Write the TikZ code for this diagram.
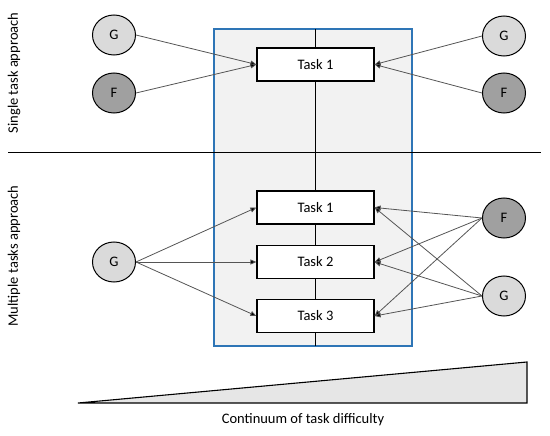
\documentclass[tikz,border=0pt]{standalone}
\usepackage{fontspec}
\setmainfont{Carlito}
\usetikzlibrary{shapes.geometric,arrows.meta}
\definecolor{panelblue}{HTML}{2E75B6}
\definecolor{panelfill}{HTML}{F2F2F2}
\definecolor{lightnode}{HTML}{DADADA}
\definecolor{darknode}{HTML}{A0A0A0}
\definecolor{arrowgray}{HTML}{555555}
\definecolor{wedgefill}{HTML}{E6E6E6}
\begin{document}
\begin{tikzpicture}[x=1pt,y=-1pt,
  every node/.style={font=\fontsize{14.5}{17}\selectfont},
  taskbox/.style={draw=black,line width=1.2pt,fill=white,minimum width=117pt,minimum height=33pt,inner sep=0pt},
  gnode/.style={ellipse,draw=black,line width=1pt,fill=lightnode,minimum width=43pt,minimum height=40pt,inner sep=0pt},
  fnode/.style={ellipse,draw=black,line width=1pt,fill=darknode,minimum width=43pt,minimum height=40pt,inner sep=0pt},
  link/.style={draw=arrowgray,line width=0.8pt,-{Triangle[length=6pt,width=5pt,fill=black]}}
]
\useasboundingbox (0,0) rectangle (550,436);
% panel
\node[draw=panelblue,line width=1.3pt,fill=panelfill,minimum width=198pt,minimum height=317pt,inner sep=0pt] (panel) at (313,187.5) {};
\coordinate (vtop) at (315,29);
\coordinate (vbot) at (315,346);
\draw[line width=1pt] (vtop) -- (vbot);
% divider
\coordinate (hl) at (8,152.5);
\coordinate (hr) at (541,152.5);
\draw[line width=1.2pt] (hl) -- (hr);
% side labels
\node[rotate=90] (single) at (14,73) {Single task approach};
\node[rotate=90] (multi) at (14,256) {Multiple tasks approach};
% top section
\node[taskbox] (t0) at (315.5,64.5) {Task 1};
\node[gnode] (gl0) at (114,35) {G};
\node[fnode] (fl0) at (114,93) {F};
\node[gnode] (gr0) at (504,36) {G};
\node[fnode] (fr0) at (504,93) {F};
\draw[link] (gl0.east) -- (t0.west);
\draw[link] (fl0.east) -- (t0.west);
\draw[link] (gr0.west) -- (t0.east);
\draw[link] (fr0.west) -- (t0.east);
% bottom section
\node[taskbox] (t1) at (315.5,207.5) {Task 1};
\node[taskbox] (t2) at (315.5,262) {Task 2};
\node[taskbox] (t3) at (315.5,316) {Task 3};
\node[gnode] (gl1) at (114,262) {G};
\node[fnode] (fr1) at (504,218) {F};
\node[gnode] (gr1) at (504,296) {G};
\draw[link] (gl1.east) -- (t1.west);
\draw[link] (gl1.east) -- (t2.west);
\draw[link] (gl1.east) -- (t3.west);
\draw[link] (fr1.west) -- (t1.east);
\draw[link] (fr1.west) -- (t2.east);
\draw[link] (fr1.west) -- (t3.east);
\draw[link] (gr1.west) -- (t1.east);
\draw[link] (gr1.west) -- (t2.east);
\draw[link] (gr1.west) -- (t3.east);
% difficulty wedge
\coordinate (wa) at (78,403);
\coordinate (wb) at (527,403);
\coordinate (wc) at (527,362);
\draw[line width=1.1pt,fill=wedgefill,line join=miter] (wa) -- (wb) -- (wc) -- cycle;
\node (cont) at (303,420) {Continuum of task difficulty};
\end{tikzpicture}
\end{document}
